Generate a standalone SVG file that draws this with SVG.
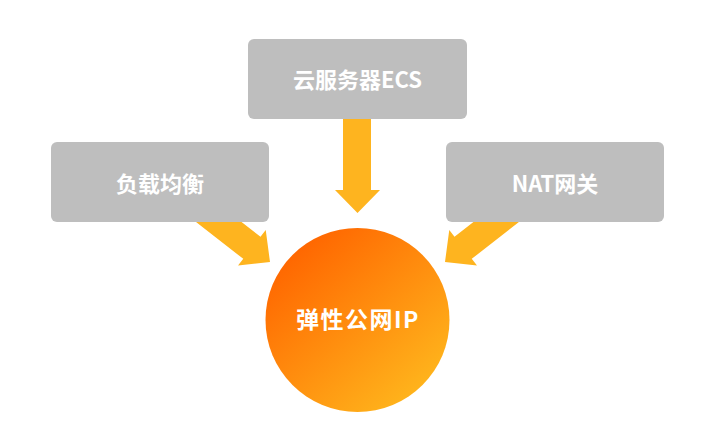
<svg xmlns="http://www.w3.org/2000/svg" width="721" height="433" viewBox="0 0 721 433">
  <defs>
    <linearGradient id="circGrad" x1="0.15" y1="0.1" x2="0.85" y2="0.9">
      <stop offset="0" stop-color="#FF6500"/>
      <stop offset="1" stop-color="#FFB51C"/>
    </linearGradient>
    <polygon id="arrowShape" points="0,0 -23,22.5 -23,14 -100,14 -100,-14 -23,-14 -23,-22.5"/>
  </defs>
  <style>
    .box { fill: #BEBEBE; }
    .arrow { fill: #FEB41F; }
    .label { fill: #FFFFFF; font-family: "Noto Sans CJK SC", "Noto Sans", "Liberation Sans", sans-serif; font-weight: bold; font-size: 22px; text-anchor: middle; dominant-baseline: central; }
    .center-label { font-size: 23px; letter-spacing: 1.5px; }
  </style>
  <rect width="721" height="433" fill="#FFFFFF"/>
  <g id="connectors">
    <polygon class="arrow" points="343,110 371,110 371,190 380,190 357.5,213 335,190 343,190"/>
    <use href="#arrowShape" class="arrow" transform="translate(270,262) rotate(38)"/>
    <use href="#arrowShape" class="arrow" transform="translate(445,262) rotate(142)"/>
  </g>
  <g id="node-ecs">
    <rect class="box" x="248" y="39" width="219" height="80" rx="6"/>
    <text class="label" x="357.5" y="78">云服务器ECS</text>
  </g>
  <g id="node-slb">
    <rect class="box" x="51" y="142" width="218" height="80" rx="6"/>
    <text class="label" x="160" y="182">负载均衡</text>
  </g>
  <g id="node-nat">
    <rect class="box" x="446" y="142" width="218" height="80" rx="6"/>
    <text class="label" x="555" y="182">NAT网关</text>
  </g>
  <g id="node-eip">
    <circle cx="357.5" cy="320" r="92" fill="url(#circGrad)"/>
    <text class="label center-label" x="358" y="318">弹性公网IP</text>
  </g>
</svg>
